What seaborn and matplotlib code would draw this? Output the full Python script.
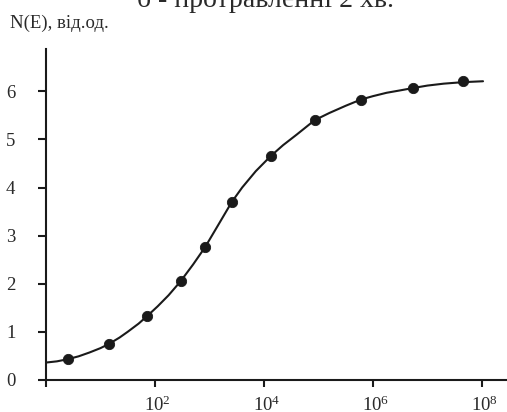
import matplotlib
matplotlib.use("Agg")
import matplotlib.pyplot as plt
import numpy as np
import pandas as pd
import seaborn as sns

# measured points (energy axis is logarithmic)
point_x = [2.5, 14.5, 72, 295, 832, 2570, 13200, 85100, 6.0e5, 5.5e6, 4.4e7]
point_y = [0.43, 0.75, 1.33, 2.05, 2.76, 3.70, 4.65, 5.40, 5.83, 6.07, 6.22]

# fitted curve (log10 of x, value)
curve_log_x = [0.00, 0.20, 0.40, 0.60, 0.80, 1.00, 1.16, 1.35, 1.50, 1.70, 1.86, 2.05,
               2.25, 2.47, 2.70, 2.92, 3.15, 3.41, 3.60, 3.85, 4.12, 4.35, 4.60, 4.93,
               5.20, 5.50, 5.78, 6.00, 6.25, 6.50, 6.74, 7.00, 7.30, 7.64, 8.02]
curve_y = [0.36, 0.385, 0.43, 0.49, 0.57, 0.66, 0.75, 0.88, 1.00, 1.17, 1.33, 1.53,
           1.76, 2.05, 2.40, 2.76, 3.20, 3.70, 4.00, 4.34, 4.65, 4.88, 5.10, 5.40,
           5.55, 5.70, 5.83, 5.90, 5.97, 6.02, 6.07, 6.12, 6.16, 6.19, 6.21]

x_ticks = [1e0, 1e2, 1e4, 1e6, 1e8]
x_tick_labels = ["", r"$10^{2}$", r"$10^{4}$", r"$10^{6}$", r"$10^{8}$"]
y_ticks = [0, 1, 2, 3, 4, 5, 6]

title = "б - протравленні 2 хв."
y_label = "N(E), від.од."

sns.set_theme(style="ticks")
plt.rcParams["font.family"] = ["Liberation Serif", "DejaVu Serif"]
plt.rcParams["mathtext.fontset"] = "custom"
plt.rcParams["mathtext.rm"] = "Liberation Serif"
plt.rcParams["mathtext.it"] = "Liberation Serif"

ink = "#1a1a1a"
text_color = "#2a2a2a"

curve = pd.DataFrame({"x": 10 ** np.array(curve_log_x), "y": curve_y})
points = pd.DataFrame({"x": point_x, "y": point_y})

fig = plt.figure(figsize=(5.07, 4.12), dpi=100)
ax = fig.add_axes([0.0907, 0.078, 0.9093, 0.803])

sns.lineplot(data=curve, x="x", y="y", ax=ax, color=ink, linewidth=1.5)
sns.scatterplot(data=points, x="x", y="y", ax=ax, color=ink, s=55, edgecolor=ink, zorder=3)

ax.set_xscale("log")
ax.set_xlim(1, 10 ** 8.46)
ax.set_ylim(0, 6.88)
ax.set_xticks(x_ticks)
ax.set_xticklabels(x_tick_labels)
ax.minorticks_off()
ax.set_yticks(y_ticks)
ax.set_xlabel("")
ax.set_ylabel("")

for side in ["top", "right"]:
    ax.spines[side].set_visible(False)
for side in ["left", "bottom"]:
    ax.spines[side].set_linewidth(1.5)
    ax.spines[side].set_color(ink)

ax.tick_params(axis="x", direction="out", length=5, width=1.5, color=ink,
               labelsize=13.5, labelcolor=text_color, pad=6)
ax.tick_params(axis="y", direction="out", length=6, width=1.5, color=ink,
               labelsize=13.5, labelcolor=text_color, pad=16)
# nudge the x labels so the "10" sits on the tick and the exponent hangs right
for label in ax.get_xticklabels():
    label.set_horizontalalignment("left")
    label.set_x(label.get_position()[0])
offset = matplotlib.transforms.ScaledTranslation(-8 / 72, 0, fig.dpi_scale_trans)
for label in ax.get_xticklabels():
    label.set_transform(label.get_transform() + offset)

fig.text(0.523, 0.983, title, ha="center", va="baseline", fontsize=20, color=text_color)
fig.text(0.02, 0.932, y_label, ha="left", va="baseline", fontsize=13.5, color=text_color)

fig.savefig("out.png", dpi=100)
plt.close(fig)
